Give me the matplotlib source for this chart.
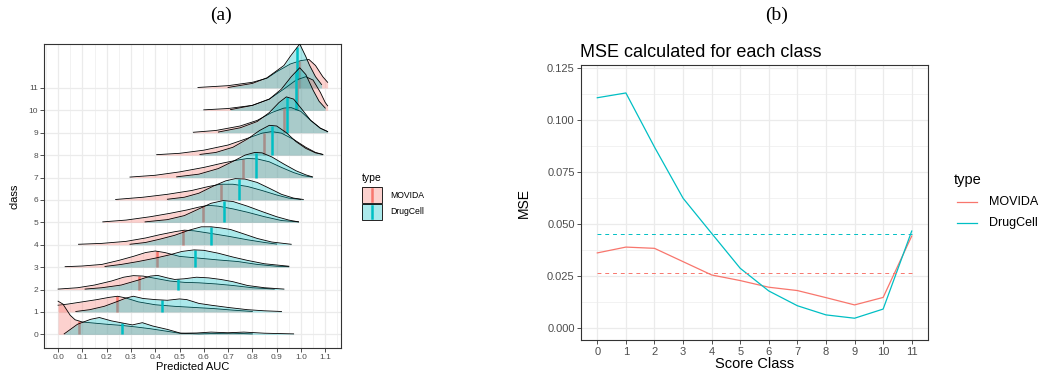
import numpy as np
import matplotlib.pyplot as plt

plt.rcParams['font.family'] = ['Liberation Sans', 'DejaVu Sans']

# ============================== DATA ==============================
# (a) ridge outlines: (Predicted AUC, ridge height in class units)
movida_0 = [(0.0, 1.48), (0.02, 1.35), (0.035, 1.1), (0.05, 0.85), (0.07, 0.65), (0.10, 0.55), (0.15, 0.5),
            (0.20, 0.45), (0.26, 0.4), (0.32, 0.33), (0.38, 0.25), (0.44, 0.15), (0.50, 0.05), (0.58, 0.02),
            (0.65, 0.04), (0.72, 0.05), (0.80, 0.02)]
drugcell_0 = [(0.025, 0.02), (0.08, 0.45), (0.134, 0.67), (0.17, 0.75), (0.22, 0.6), (0.258, 0.52), (0.306, 0.42),
              (0.347, 0.52), (0.39, 0.37), (0.45, 0.22), (0.505, 0.05), (0.57, 0.06), (0.63, 0.1), (0.70, 0.07),
              (0.765, 0.1), (0.85, 0.05), (0.97, 0.02)]
movida_1 = [(0.0, 0.3), (0.04, 0.35), (0.10, 0.45), (0.16, 0.55), (0.21, 0.65), (0.245, 0.7), (0.28, 0.62),
            (0.33, 0.45), (0.40, 0.32), (0.48, 0.25), (0.56, 0.2), (0.64, 0.15), (0.72, 0.08), (0.80, 0.02)]
drugcell_1 = [(0.073, 0.02), (0.13, 0.1), (0.19, 0.25), (0.24, 0.45), (0.28, 0.62), (0.31, 0.7), (0.35, 0.6),
              (0.40, 0.55), (0.45, 0.52), (0.50, 0.58), (0.53, 0.55), (0.58, 0.38), (0.63, 0.3), (0.70, 0.2),
              (0.78, 0.1), (0.85, 0.05), (0.92, 0.02)]
movida_2 = [(0.0, 0.02), (0.08, 0.08), (0.15, 0.2), (0.22, 0.38), (0.27, 0.55), (0.31, 0.62), (0.35, 0.6),
            (0.40, 0.5), (0.46, 0.38), (0.52, 0.32), (0.58, 0.3), (0.65, 0.25), (0.72, 0.18), (0.80, 0.08),
            (0.89, 0.02)]
drugcell_2 = [(0.111, 0.02), (0.18, 0.08), (0.26, 0.2), (0.33, 0.42), (0.38, 0.6), (0.41, 0.63), (0.45, 0.52),
              (0.48, 0.45), (0.52, 0.48), (0.57, 0.55), (0.62, 0.52), (0.67, 0.45), (0.72, 0.35), (0.78, 0.18),
              (0.85, 0.08), (0.93, 0.02)]
movida_3 = [(0.029, 0.02), (0.10, 0.05), (0.18, 0.12), (0.25, 0.3), (0.31, 0.48), (0.36, 0.65), (0.40, 0.72),
            (0.44, 0.65), (0.50, 0.48), (0.58, 0.4), (0.66, 0.32), (0.74, 0.25), (0.82, 0.12), (0.90, 0.04),
            (0.95, 0.02)]
drugcell_3 = [(0.193, 0.03), (0.26, 0.12), (0.33, 0.25), (0.40, 0.4), (0.46, 0.55), (0.51, 0.7), (0.56, 0.77),
              (0.60, 0.75), (0.66, 0.62), (0.72, 0.45), (0.78, 0.3), (0.85, 0.15), (0.95, 0.04)]
movida_4 = [(0.084, 0.02), (0.18, 0.06), (0.28, 0.15), (0.36, 0.3), (0.42, 0.45), (0.48, 0.58), (0.52, 0.65),
            (0.56, 0.62), (0.62, 0.52), (0.70, 0.38), (0.78, 0.22), (0.85, 0.1), (0.90, 0.03)]
drugcell_4 = [(0.296, 0.02), (0.36, 0.1), (0.42, 0.25), (0.48, 0.42), (0.54, 0.65), (0.59, 0.8), (0.63, 0.8),
              (0.67, 0.75), (0.71, 0.68), (0.76, 0.5), (0.82, 0.28), (0.88, 0.12), (0.96, 0.02)]
movida_5 = [(0.184, 0.02), (0.28, 0.1), (0.38, 0.25), (0.46, 0.4), (0.53, 0.55), (0.58, 0.68), (0.62, 0.76),
            (0.66, 0.72), (0.72, 0.6), (0.78, 0.45), (0.85, 0.25), (0.92, 0.08), (0.99, 0.02)]
drugcell_5 = [(0.358, 0.02), (0.45, 0.12), (0.52, 0.3), (0.58, 0.6), (0.63, 0.85), (0.68, 0.97), (0.72, 0.93),
              (0.78, 0.72), (0.84, 0.48), (0.90, 0.25), (0.95, 0.1), (0.99, 0.02)]
movida_6 = [(0.237, 0.02), (0.35, 0.12), (0.45, 0.25), (0.55, 0.42), (0.62, 0.6), (0.67, 0.7), (0.72, 0.7),
            (0.78, 0.6), (0.84, 0.42), (0.90, 0.22), (0.95, 0.08), (1.0, 0.02)]
drugcell_6 = [(0.45, 0.03), (0.52, 0.12), (0.58, 0.3), (0.64, 0.62), (0.69, 0.85), (0.73, 0.95), (0.77, 0.93),
              (0.82, 0.78), (0.87, 0.52), (0.92, 0.25), (0.97, 0.08), (1.01, 0.02)]
movida_7 = [(0.296, 0.02), (0.40, 0.1), (0.50, 0.25), (0.60, 0.45), (0.68, 0.65), (0.74, 0.78), (0.78, 0.85),
            (0.82, 0.83), (0.87, 0.7), (0.92, 0.45), (0.97, 0.22), (1.01, 0.08), (1.047, 0.02)]
drugcell_7 = [(0.488, 0.03), (0.58, 0.15), (0.66, 0.4), (0.72, 0.72), (0.77, 1.0), (0.81, 1.12), (0.84, 1.1),
              (0.88, 0.92), (0.93, 0.6), (0.98, 0.3), (1.02, 0.12), (1.047, 0.03)]
movida_8 = [(0.406, 0.02), (0.50, 0.08), (0.60, 0.22), (0.70, 0.45), (0.78, 0.75), (0.84, 0.98), (0.88, 1.05),
            (0.92, 0.98), (0.97, 0.7), (1.02, 0.35), (1.06, 0.12), (1.09, 0.03)]
drugcell_8 = [(0.584, 0.03), (0.65, 0.12), (0.72, 0.35), (0.78, 0.72), (0.83, 1.1), (0.87, 1.33), (0.90, 1.3),
              (0.94, 1.0), (0.98, 0.6), (1.02, 0.3), (1.06, 0.1), (1.09, 0.03)]
movida_9 = [(0.557, 0.02), (0.65, 0.1), (0.75, 0.3), (0.82, 0.55), (0.88, 0.9), (0.93, 1.1), (0.96, 1.12),
            (1.0, 0.95), (1.04, 0.55), (1.08, 0.2), (1.11, 0.05)]
drugcell_9 = [(0.66, 0.03), (0.75, 0.22), (0.82, 0.5), (0.87, 0.9), (0.91, 1.35), (0.94, 1.6), (0.97, 1.5),
              (1.0, 1.1), (1.04, 0.55), (1.08, 0.2), (1.11, 0.05)]
movida_10 = [(0.60, 0.02), (0.70, 0.08), (0.80, 0.22), (0.87, 0.5), (0.93, 0.95), (0.98, 1.35), (1.02, 1.5),
             (1.05, 1.35), (1.08, 0.8), (1.10, 0.35), (1.11, 0.2)]
drugcell_10 = [(0.71, 0.03), (0.80, 0.22), (0.87, 0.5), (0.92, 0.95), (0.96, 1.5), (0.995, 1.9), (1.02, 1.6),
               (1.05, 0.9), (1.075, 0.4), (1.10, 0.1)]
movida_11 = [(0.576, 0.02), (0.70, 0.1), (0.80, 0.25), (0.86, 0.43), (0.90, 0.72), (0.957, 1.07), (1.0, 1.22),
             (1.033, 1.27), (1.06, 1.0), (1.09, 0.5), (1.11, 0.25)]
drugcell_11 = [(0.70, 0.02), (0.80, 0.2), (0.86, 0.45), (0.93, 1.0), (0.957, 1.42), (0.995, 1.96), (1.02, 1.4),
               (1.035, 1.02), (1.06, 0.5), (1.085, 0.15)]

movida = [movida_0, movida_1, movida_2, movida_3, movida_4, movida_5,
          movida_6, movida_7, movida_8, movida_9, movida_10, movida_11]
drugcell = [drugcell_0, drugcell_1, drugcell_2, drugcell_3, drugcell_4, drugcell_5,
            drugcell_6, drugcell_7, drugcell_8, drugcell_9, drugcell_10, drugcell_11]

# mean predicted AUC per class (vertical lines)
movida_mean = [0.085, 0.244, 0.333, 0.409, 0.513, 0.597, 0.671, 0.763, 0.848, 0.93, 0.985, 0.99]
drugcell_mean = [0.262, 0.429, 0.494, 0.562, 0.628, 0.682, 0.744, 0.815, 0.879, 0.941, 0.98, 0.985]

# (b) MSE per score class
score_class = list(range(12))
mse_movida = [0.0361, 0.0389, 0.0383, 0.0319, 0.0255, 0.0228, 0.0196, 0.0180, 0.0146, 0.0111, 0.0147, 0.0442]
mse_drugcell = [0.1107, 0.1130, 0.0870, 0.0624, 0.0455, 0.0287, 0.0178, 0.0107, 0.0063, 0.0047, 0.0091, 0.0466]

# ============================== PLOT STUFF ==============================
W, H = 1042, 373
RED, CYAN = '#F8766D', '#00BFC4'
GRID, TXT = '#EBEBEB', '#4D4D4D'

def frac(l, t, r, b):
    # pixel box -> figure fraction
    return [l / W, 1 - b / H, (r - l) / W, (b - t) / H]

def style(ax, fs):
    ax.set_axisbelow(True)
    ax.grid(which='major', color=GRID, lw=0.9)
    ax.grid(which='minor', color=GRID, lw=0.45)
    for s in ax.spines.values():
        s.set_color('#333333')
        s.set_linewidth(0.8)
    ax.tick_params(which='major', length=2.8, width=0.6, color='#333333', labelcolor=TXT, labelsize=fs, pad=1.5)
    ax.tick_params(which='minor', length=0)

fig = plt.figure(figsize=(W / 100, H / 100), dpi=100)

# ------------------------ (a) ridges --------------------------
axa = fig.add_axes(frac(44, 44, 341, 348))
for k in range(11, -1, -1):
    z = (12 - k) * 3
    for pts, col, mu in ((movida[k], RED, movida_mean[k]), (drugcell[k], CYAN, drugcell_mean[k])):
        x, h = np.array(pts).T
        axa.fill_between(x, k, k + h, color=col, alpha=0.33, lw=0, zorder=z)
        axa.plot([mu, mu], [k, k + np.interp(mu, x, h)], color=col, lw=1.8, zorder=z + 0.3,
                 solid_capstyle='butt')
        axa.plot(x, k + h, color='black', lw=0.6, zorder=z + 0.5)
        z += 1

axa.set_xticks(np.arange(12) / 10)
axa.set_xticklabels(['%.1f' % v for v in np.arange(12) / 10])
axa.set_xticks(np.arange(-1, 12) / 10 + 0.05, minor=True)
axa.set_yticks(range(12))
axa.set_yticklabels([str(c) for c in range(12)])
axa.set_xlim(-0.058, 1.165)
axa.set_ylim(-0.61, 12.96)
style(axa, 6)

# ------------------------ (b) MSE --------------------------
axb = fig.add_axes(frac(580.7, 65, 928.3, 340))
axb.plot(score_class, mse_movida, color=RED, lw=0.9)
axb.plot(score_class, mse_drugcell, color=CYAN, lw=0.9)
axb.plot([0, 11], [np.mean(mse_movida)] * 2, color=RED, lw=0.7, ls=(0, (4, 4)))
axb.plot([0, 11], [np.mean(mse_drugcell)] * 2, color=CYAN, lw=0.7, ls=(0, (4, 4)))
axb.set_xticks(score_class)
axb.set_yticks([0, 0.025, 0.05, 0.075, 0.1, 0.125])
axb.set_yticklabels(['0.000', '0.025', '0.050', '0.075', '0.100', '0.125'])
axb.set_yticks(np.arange(0, 0.13, 0.025) + 0.0125, minor=True)
axb.set_xlim(-0.581, 11.58)
axb.set_ylim(-0.00577, 0.12644)
style(axb, 8)
axb.tick_params(axis='x', pad=2.5)

# ------------------------ texts & legends (pixel overlay) --------------------------
ov = fig.add_axes([0, 0, 1, 1])
ov.set_xlim(0, W)
ov.set_ylim(H, 0)
ov.axis('off')

ov.text(221, 15, '(a)', family='Liberation Serif', fontsize=14, ha='center', va='center')
ov.text(777, 15, '(b)', family='Liberation Serif', fontsize=14, ha='center', va='center')

ov.text(192.5, 367, 'Predicted AUC', fontsize=8, ha='center', va='center')
ov.text(14, 196, 'class', fontsize=8, rotation=90, ha='center', va='center')
ov.text(754.5, 364.5, 'Score Class', fontsize=10.5, ha='center', va='center')
ov.text(524, 202.5, 'MSE', fontsize=10, rotation=90, ha='center', va='center')
ov.text(580, 56.7, 'MSE calculated for each class', fontsize=13, ha='left', va='baseline')

# legend (a)
ov.text(362, 178, 'type', fontsize=7.5, ha='left', va='center')
for i, (lbl, col) in enumerate((('MOVIDA', RED), ('DrugCell', CYAN))):
    y0 = 187 + 16.5 * i
    ov.add_patch(plt.Rectangle((362, y0), 20, 16, facecolor=col, alpha=0.33, lw=0))
    ov.add_patch(plt.Rectangle((362, y0), 20, 16, fill=False, edgecolor='black', lw=0.6))
    ov.plot([372, 372], [y0 + 2, y0 + 14], color=col, lw=1.8)
    ov.text(390, y0 + 8, lbl, fontsize=6.2, ha='left', va='center')

# legend (b)
ov.text(954, 180, 'type', fontsize=10.5, ha='left', va='center')
for i, (lbl, col) in enumerate((('MOVIDA', RED), ('DrugCell', CYAN))):
    y0 = 202 + 20.7 * i
    ov.plot([956.7, 976.7], [y0, y0], color=col, lw=0.9)
    ov.text(989, y0, lbl, fontsize=9, ha='left', va='center')

fig.savefig('out.png', dpi=100)
